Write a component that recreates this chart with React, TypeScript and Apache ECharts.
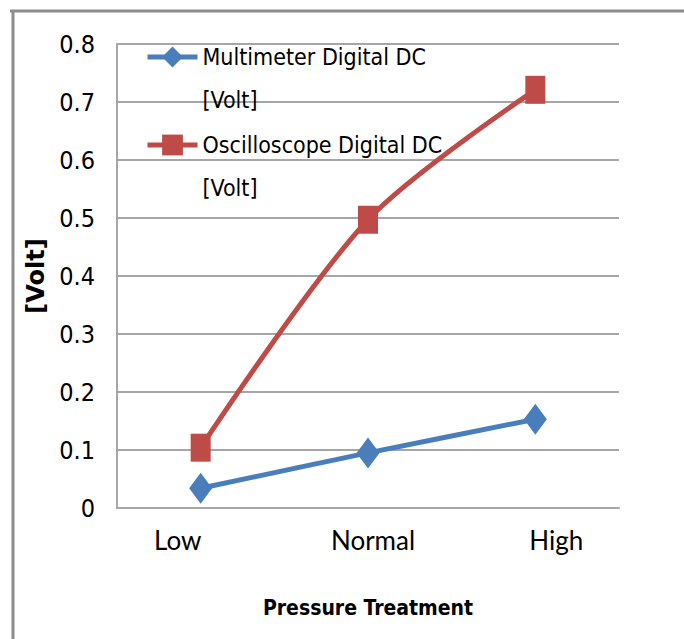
import React, { useEffect, useRef } from "react";
import * as echarts from "echarts";

const categories = ["Low", "Normal", "High"];
const multimeterValues = [0.034, 0.095, 0.153];
const oscilloscopeValues = [0.104, 0.497, 0.721];
const seriesNames = ["Multimeter Digital DC [Volt]", "Oscilloscope Digital DC [Volt]"];
const xAxisTitle = "Pressure Treatment";
const yAxisTitle = "[Volt]";
const yMin = 0;
const yMax = 0.8;
const yStep = 0.1;

const NARROW = "'DejaVu Sans Condensed', 'Liberation Sans', sans-serif";
const BLUE = "#4A7EBB";
const RED = "#BE4B48";
const GRID = "#A6A6A6";

export default function App() {
  const ref = useRef<HTMLDivElement>(null);

  useEffect(() => {
    if (!ref.current) return;
    const chart = echarts.init(ref.current, undefined, { renderer: "svg" });
    const labelPad: Record<string, number[]> = {
      Low: [0, 46, 0, 0],
      Normal: [0, 0, 0, 10],
      High: [0, 0, 0, 42],
    };
    const rich: Record<string, any> = {};
    categories.forEach((c, i) => {
      rich["c" + i] = {
        fontFamily: "Lato, 'Open Sans', sans-serif",
        fontSize: 26,
        color: "#000",
        padding: labelPad[c] || [0, 0, 0, 0],
      };
    });

    chart.setOption({
      animation: false,
      backgroundColor: "#fff",
      grid: { left: 117, right: 65, top: 44, bottom: 131, containLabel: false },
      legend: {
        orient: "vertical",
        left: 145,
        top: -7.5,
        padding: 0,
        itemGap: -41,
        itemWidth: 50,
        itemHeight: 26,
        data: seriesNames,
        formatter: (name: string) => " \n" + name.replace(" [Volt]", "\n[Volt]"),
        lineStyle: { width: 5 },
        textStyle: {
          fontFamily: NARROW,
          fontSize: 23,
          lineHeight: 43,
          color: "#000",
        },
      },
      xAxis: {
        type: "category",
        data: categories,
        boundaryGap: true,
        name: xAxisTitle,
        nameLocation: "middle",
        nameGap: 100,
        nameTextStyle: {
          fontFamily: NARROW,
          fontWeight: "bold",
          fontSize: 21,
          color: "#000",
          verticalAlign: "middle",
        },
        axisLine: { show: true, lineStyle: { color: GRID, width: 2 } },
        axisTick: { show: false },
        axisLabel: {
          margin: 19,
          formatter: (v: string) => `{c${categories.indexOf(v)}|${v}}`,
          rich,
        },
        splitLine: { show: false },
      },
      yAxis: {
        type: "value",
        min: yMin,
        max: yMax,
        interval: yStep,
        name: yAxisTitle,
        nameLocation: "middle",
        nameGap: 72,
        nameRotate: 90,
        nameTextStyle: {
          fontFamily: "'DejaVu Sans', sans-serif",
          fontWeight: "bold",
          fontSize: 24,
          color: "#000",
          verticalAlign: "middle",
        },
        axisLine: { show: true, lineStyle: { color: GRID, width: 2 } },
        axisTick: { show: false },
        axisLabel: {
          margin: 22,
          fontFamily: NARROW,
          fontSize: 25,
          color: "#000",
        },
        splitLine: { show: true, lineStyle: { color: GRID, width: 2 } },
      },
      series: [
        {
          name: seriesNames[0],
          type: "line",
          data: multimeterValues,
          smooth: 0.3,
          symbol: "diamond",
          symbolSize: [23, 31],
          lineStyle: { color: BLUE, width: 5 },
          itemStyle: { color: BLUE },
          z: 3,
        },
        {
          name: seriesNames[1],
          type: "line",
          data: oscilloscopeValues,
          smooth: 0.3,
          symbol: "rect",
          symbolSize: [20, 28],
          lineStyle: { color: RED, width: 5 },
          itemStyle: { color: RED },
          z: 2,
        },
      ],
      graphic: [
        {
          type: "line",
          shape: { x1: 10, y1: 11, x2: 684, y2: 11 },
          style: { stroke: "#8C8C8C", lineWidth: 3 },
        },
        {
          type: "line",
          shape: { x1: 13, y1: 10, x2: 13, y2: 639 },
          style: { stroke: "#8C8C8C", lineWidth: 3 },
        },
      ],
    });
    return () => chart.dispose();
  }, []);

  return (
    <div
      ref={ref}
      style={{ position: "absolute", left: 0, top: 0, width: 684, height: 639 }}
    />
  );
}
